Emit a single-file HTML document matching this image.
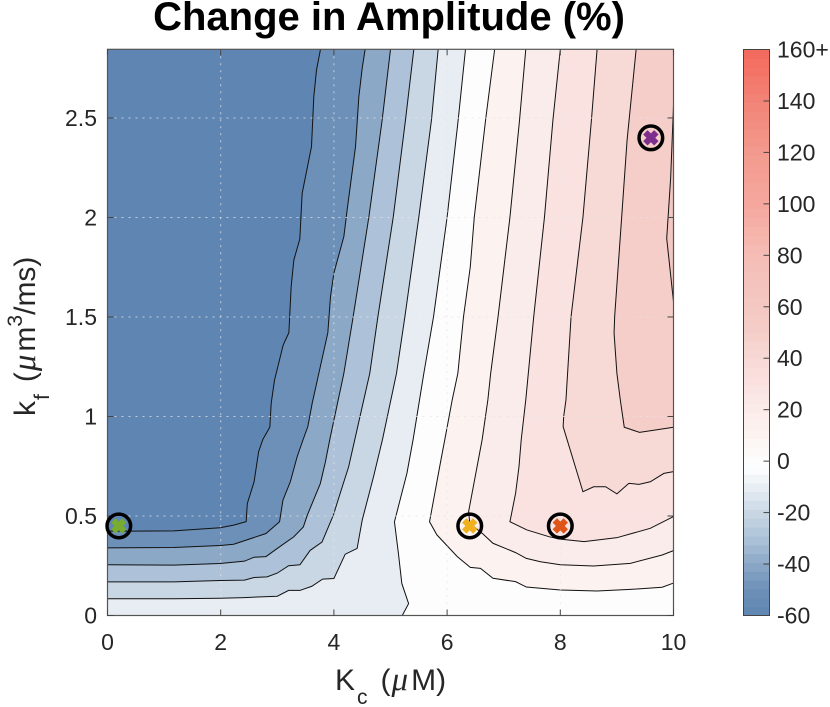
<!DOCTYPE html>
<html lang="en">
<head>
<meta charset="utf-8">
<title>Change in Amplitude (%)</title>
<style>
html,body{margin:0;padding:0;background:#fff;}
svg{display:block;font-family:"Liberation Sans",sans-serif;}
text{fill:#262626;}
</style>
</head>
<body>
<svg id="chart" xmlns="http://www.w3.org/2000/svg" width="830" height="707" viewBox="0 0 830 707">
  <text x="389" y="30" text-anchor="middle" font-size="40" font-weight="bold" style="fill:#000">Change in Amplitude (%)</text>
  <g id="plot"></g>
  <g id="colorbar"></g>
  <text x="335" y="690" font-size="30">K<tspan font-size="21" dx="2" dy="14">c</tspan><tspan dx="13" dy="-14">(</tspan><tspan font-family="'Liberation Serif',serif" font-style="italic" font-size="33" dx="1">μ</tspan><tspan dx="3">M)</tspan></text>
  <text transform="translate(35,416) rotate(-90)" font-size="30">k<tspan font-size="21" dx="1" dy="14">f</tspan><tspan dx="12" dy="-14">(</tspan><tspan font-family="'Liberation Serif',serif" font-style="italic" font-size="33" dx="1">μ</tspan><tspan dx="3">m</tspan><tspan font-size="21" dy="-13">3</tspan><tspan dy="13">/ms)</tspan></text>
</svg>
<script>
const xTicks = [0, 2, 4, 6, 8, 10];
const yTicks = [0, 0.5, 1, 1.5, 2, 2.5];
const yTickLabels = ['0', '0.5', '1', '1.5', '2', '2.5'];
const colorbarTicks = [-60, -40, -20, 0, 20, 40, 60, 80, 100, 120, 140, 160];
const colorbarTickLabels = ['-60', '-40', '-20', '0', '20', '40', '60', '80', '100', '120', '140', '160+'];
const cmapValues = [-60, -50, -40, -30, -20, -10, -3, 0, 10, 20, 30, 40, 50, 60, 80, 100, 120, 140, 160];
const cmapColors = ['#5f85b2', '#6d90b8', '#8ba8c7', '#adc2d8', '#c9d7e5', '#e8edf3', '#fcfdfe', '#fdfdfe', '#fcf3f1', '#faecea', '#fae2e1', '#f7d9d6', '#f5cec9', '#f4c8c2', '#f5bdb6', '#f5a79d', '#f39a8e', '#f28376', '#f3695c'];

const contourLevels = [-50, -40, -30, -20, -10, 0, 10, 20, 30, 40, 50, 60];
const contourM50 = [[0,.424],[.46,.424],[1.17,.425],[1.99,.441],[2.23,.454],[2.45,.472],[2.47,.562],[2.59,.672],[2.67,.823],[2.745,.885],[2.868,.946],[2.892,1.066],[2.951,1.183],[3.104,1.359],[3.204,1.421],[3.245,1.652],[3.292,1.786],[3.398,1.892],[3.439,2.121],[3.604,2.356],[3.645,2.607],[3.693,2.741],[3.763,2.845]];
const contourM40 = [[0,.34],[1.17,.342],[1.99,.352],[2.23,.358],[2.8,.412],[3.04,.471],[3.1,.58],[3.23,.672],[3.35,.797],[3.457,.885],[3.539,.949],[3.616,1.066],[3.734,1.217],[3.893,1.421],[3.94,1.602],[3.999,1.72],[4.176,1.904],[4.234,2.038],[4.382,2.356],[4.441,2.607],[4.5,2.75],[4.552,2.845]];
const contourM30 = [[0,.255],[1.17,.253],[1.99,.261],[2.42,.273],[2.59,.293],[2.8,.296],[3.04,.345],[3.29,.395],[3.46,.445],[3.53,.504],[3.76,.663],[3.85,.772],[3.928,.885],[4.176,1.217],[4.34,1.501],[4.617,2.001],[4.853,2.49],[5,2.845]];
const contourM20 = [[0,.169],[1.17,.169],[1.99,.176],[2.42,.178],[2.59,.191],[2.82,.194],[3,.213],[3.2,.25],[3.4,.255],[3.58,.327],[3.79,.369],[3.99,.504],[4.11,.613],[4.26,.747],[4.37,.885],[4.634,1.217],[4.777,1.501],[5.048,2.001],[5.265,2.49],[5.412,2.845]];
const contourM10 = [[0,.084],[1.17,.084],[1.99,.087],[2.42,.09],[3,.097],[3.2,.126],[3.4,.126],[3.61,.147],[3.8,.183],[4,.186],[4.2,.308],[4.41,.337],[4.5,.479],[4.7,.697],[4.859,.885],[5.106,1.217],[5.254,1.501],[5.5,2.001],[5.724,2.49],[5.842,2.845]];
const contourZero = [[5.208,0],[5.32,.06],[5.2,.161],[5.14,.312],[5.07,.471],[5.29,.714],[5.4,.885],[5.589,1.217],[5.76,1.501],[6,2.001],[6.196,2.49],[6.325,2.845]];
const contourP10 = [[10,.163],[9.8,.142],[9.24,.131],[8.65,.123],[8,.128],[7.4,.143],[7.21,.17],[6.81,.187],[6.59,.237],[6.41,.242],[6.18,.296],[5.82,.405],[5.69,.471],[5.88,.765],[5.96,.885],[6.09,1.083],[6.19,1.217],[6.29,1.501],[6.41,1.753],[6.48,2.001],[6.68,2.49],[6.84,2.845]];
const contourP20 = [[10,.326],[9.8,.304],[9.24,.262],[8.59,.249],[8,.255],[7.65,.27],[7.4,.287],[7.21,.316],[6.81,.363],[6.62,.413],[6.4,.463],[6.38,.522],[6.62,.885],[6.72,1.083],[6.77,1.217],[6.9,1.501],[7.11,2.001],[7.28,2.49],[7.39,2.845]];
const contourP30 = [[10,.497],[9.59,.438],[9,.391],[8.42,.371],[8,.384],[7.8,.396],[7.41,.43],[7.11,.471],[7.21,.614],[7.27,.748],[7.31,.885],[7.39,1.083],[7.53,1.501],[7.72,2.001],[7.87,2.49],[8,2.845]];
const contourP40 = [[10,.723],[9.83,.714],[9.59,.672],[9.39,.659],[9.21,.664],[9,.611],[8.8,.647],[8.59,.647],[8.4,.622],[8.05,.949],[8.06,1],[8.1,1.083],[8.19,1.501],[8.4,2.001],[8.55,2.49],[8.65,2.845]];
const contourP50 = [[10,.946],[9.4,.92],[9.13,.946],[9.06,1.083],[9,1.217],[8.95,1.418],[8.96,1.501],[9.06,1.904],[9.18,2.389],[9.34,2.845]];
const contourP60 = [[10,2.56],[9.95,2.2],[9.88,1.895],[10,1.577]];
const contourLines = [contourM50, contourM40, contourM30, contourM20, contourM10, contourZero, contourP10, contourP20, contourP30, contourP40, contourP50, contourP60];

const markerX = [0.2, 6.4, 8, 9.6];
const markerY = [0.45, 0.45, 0.45, 2.4];
const markerColors = ['#77ac30', '#efb11e', '#de5518', '#7e2f8e'];

const NS = 'http://www.w3.org/2000/svg';
const XMIN = 0, XMAX = 10, YMIN = 0, YMAX = 2.845;
const left = 107.5, right = 673.5, bottom = 615.5, top_ = 49.3;
const sx = v => left + (v - XMIN) / (XMAX - XMIN) * (right - left);
const sy = v => bottom - (v - YMIN) / (YMAX - YMIN) * (bottom - top_);

const cbLeft = 743.5, cbRight = 769.5, cbTop = 49.5, cbBottom = 615.5, cbMin = -60, cbMax = 160;
const sc = v => cbBottom - (v - cbMin) / (cbMax - cbMin) * (cbBottom - cbTop);

function hexToRgb(h) {
  return [parseInt(h.slice(1, 3), 16), parseInt(h.slice(3, 5), 16), parseInt(h.slice(5, 7), 16)];
}
function colorAt(v) {
  for (let i = 0; i < cmapValues.length - 1; i++) {
    if (v <= cmapValues[i + 1]) {
      const t = Math.max(0, (v - cmapValues[i]) / (cmapValues[i + 1] - cmapValues[i]));
      const a = hexToRgb(cmapColors[i]);
      const b = hexToRgb(cmapColors[i + 1]);
      return 'rgb(' + a.map((c, k) => Math.round(c + (b[k] - c) * t)).join(',') + ')';
    }
  }
  return cmapColors[cmapColors.length - 1];
}
function make(tag, attrs, parent) {
  const el = document.createElementNS(NS, tag);
  for (const k in attrs) el.setAttribute(k, attrs[k]);
  parent.appendChild(el);
  return el;
}

const plot = document.getElementById('plot');
const bg = make('rect', {x: left, y: top_, width: right - left, height: bottom - top_, fill: colorAt(cbMin)}, plot);



contourLines.forEach((line, i) => {
  const first = line[0];
  const last = line[line.length - 1];
  const pts = line.slice();
  if (last[0] !== XMAX) {
    pts.push([XMAX, YMAX]);
    if (first[0] !== XMAX) pts.push([XMAX, YMIN]);
    if (first[0] === XMIN) pts.push([XMIN, YMIN]);
  }
  const band = make('polygon', {
    points: pts.map(p => sx(p[0]).toFixed(2) + ',' + sy(p[1]).toFixed(2)).join(' '),
    fill: colorAt(contourLevels[i])
  }, plot);
  
  
});

contourLines.forEach((line) => {
  const path = make('polyline', {
    points: line.map(p => sx(p[0]).toFixed(2) + ',' + sy(p[1]).toFixed(2)).join(' '),
    fill: 'none', stroke: '#111', 'stroke-width': 1
  }, plot);
  
  
});

xTicks.slice(1, -1).forEach(v => {
  const g = make('line', {x1: sx(v), x2: sx(v), y1: top_, y2: bottom, stroke: 'rgba(228,228,228,0.75)', 'stroke-width': 1, 'stroke-dasharray': '2 5'}, plot);
  
  
});
yTicks.slice(1).forEach(v => {
  const g = make('line', {x1: left, x2: right, y1: sy(v), y2: sy(v), stroke: 'rgba(228,228,228,0.75)', 'stroke-width': 1, 'stroke-dasharray': '2 5'}, plot);
  
  
});

const box = make('rect', {x: left, y: top_, width: right - left, height: bottom - top_, fill: 'none', stroke: '#555', 'stroke-width': 1.2}, plot);



xTicks.forEach(v => {
  const a = make('line', {x1: sx(v), x2: sx(v), y1: bottom, y2: bottom - 6, stroke: '#444', 'stroke-width': 1}, plot);
  
  
  const b = make('line', {x1: sx(v), x2: sx(v), y1: top_, y2: top_ + 6, stroke: '#444', 'stroke-width': 1}, plot);
  
  
  const t = make('text', {x: sx(v), y: 650, 'text-anchor': 'middle', 'font-size': 23}, plot);
  t.textContent = String(v);
  
  
});
yTicks.forEach((v, i) => {
  const a = make('line', {x1: left, x2: left + 6, y1: sy(v), y2: sy(v), stroke: '#444', 'stroke-width': 1}, plot);
  
  
  const b = make('line', {x1: right, x2: right - 6, y1: sy(v), y2: sy(v), stroke: '#444', 'stroke-width': 1}, plot);
  
  
  const t = make('text', {x: 97, y: sy(v) + 8, 'text-anchor': 'end', 'font-size': 23}, plot);
  t.textContent = yTickLabels[i];
  
  
});

markerX.forEach((mx, i) => {
  const cx = sx(mx);
  const cy = sy(markerY[i]);
  const ring = make('circle', {cx: cx, cy: cy, r: 11.8, fill: 'none', stroke: '#000', 'stroke-width': 3.5}, plot);
  
  
  const cross = make('path', {d: 'M' + (cx - 5.5) + ' ' + (cy - 5.5) + 'L' + (cx + 5.5) + ' ' + (cy + 5.5) + 'M' + (cx - 5.5) + ' ' + (cy + 5.5) + 'L' + (cx + 5.5) + ' ' + (cy - 5.5), stroke: markerColors[i], 'stroke-width': 6.2, fill: 'none'}, plot);
  
  
});

const cb = document.getElementById('colorbar');
const cbSteps = 64;
for (let i = 0; i < cbSteps; i++) {
  const v0 = cbMin + (cbMax - cbMin) * i / cbSteps;
  const v1 = cbMin + (cbMax - cbMin) * (i + 1) / cbSteps;
  const r = make('rect', {x: cbLeft, y: sc(v1), width: cbRight - cbLeft, height: sc(v0) - sc(v1) + 0.5, fill: colorAt((v0 + v1) / 2)}, cb);
  
  
}
const cbBox = make('rect', {x: cbLeft, y: cbTop, width: cbRight - cbLeft, height: cbBottom - cbTop, fill: 'none', stroke: '#444', 'stroke-width': 1}, cb);


colorbarTicks.forEach((v, i) => {
  if (v !== cbMin && v !== cbMax) {
    const l = make('line', {x1: cbRight, x2: cbRight - 6, y1: sc(v), y2: sc(v), stroke: '#444', 'stroke-width': 1}, cb);
    
    
  }
  const t = make('text', {x: 777, y: sc(v) + 8, 'font-size': 23}, cb);
  t.textContent = colorbarTickLabels[i];
  
  
});
</script>
</body>
</html>
